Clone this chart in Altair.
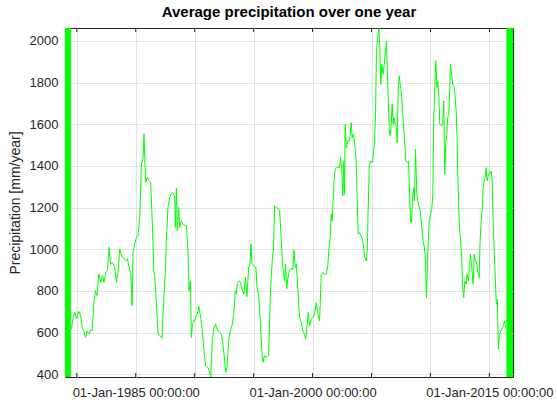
import math

import altair as alt
import pandas as pd

# ---- data -------------------------------------------------------------------
TITLE = "Average precipitation over one year"
Y_LABEL = "Precipitation [mm/year]"

# One-year moving average of precipitation (decimal year, mm/year)
DECIMAL_YEARS = [
    1979.55, 1979.69, 1979.83, 1979.97, 1980.17, 1980.34, 1980.45, 1980.59, 1980.74, 1980.87,
    1981.02, 1981.19, 1981.30, 1981.47, 1981.58, 1981.72, 1981.86, 1982.03, 1982.18, 1982.31,
    1982.46, 1982.60, 1982.74, 1982.86, 1983.03, 1983.22, 1983.36, 1983.50, 1983.64, 1983.79,
    1983.92, 1984.13, 1984.30, 1984.43, 1984.58, 1984.69, 1984.77, 1984.92, 1985.06, 1985.19,
    1985.34, 1985.48, 1985.62, 1985.70, 1985.79, 1985.85, 1985.96, 1986.13, 1986.27, 1986.42,
    1986.53, 1986.61, 1986.75, 1986.89, 1987.09, 1987.23, 1987.31, 1987.40, 1987.52, 1987.60,
    1987.74, 1987.88, 1988.03, 1988.16, 1988.31, 1988.36, 1988.45, 1988.53, 1988.64, 1988.73,
    1988.87, 1989.01, 1989.30, 1989.43, 1989.52, 1989.64, 1989.72, 1989.81, 1989.92, 1990.08,
    1990.23, 1990.36, 1990.51, 1990.65, 1990.76, 1990.93, 1991.13, 1991.27, 1991.36, 1991.50,
    1991.61, 1991.78, 1991.84, 1991.97, 1992.12, 1992.26, 1992.40, 1992.54, 1992.63, 1992.74,
    1992.88, 1993.03, 1993.16, 1993.31, 1993.45, 1993.53, 1993.62, 1993.75, 1993.90, 1994.01,
    1994.18, 1994.30, 1994.43, 1994.58, 1994.69, 1994.77, 1994.86, 1995.00, 1995.19, 1995.31,
    1995.42, 1995.57, 1995.70, 1995.79, 1995.93, 1996.10, 1996.27, 1996.44, 1996.58, 1996.69,
    1996.78, 1996.92, 1997.20, 1997.35, 1997.48, 1997.63, 1997.71, 1997.80, 1997.91, 1998.05,
    1998.19, 1998.33, 1998.42, 1998.53, 1998.62, 1998.75, 1998.90, 1999.04, 1999.18, 1999.32,
    1999.41, 1999.52, 1999.64, 1999.75, 1999.89, 2000.03, 2000.17, 2000.31, 2000.45, 2000.59,
    2000.74, 2000.87, 2001.02, 2001.16, 2001.30, 2001.38, 2001.50, 2001.58, 2001.67, 2001.78,
    2001.89, 2002.01, 2002.18, 2002.29, 2002.37, 2002.48, 2002.57, 2002.65, 2002.71, 2002.77,
    2002.86, 2002.99, 2003.14, 2003.28, 2003.36, 2003.47, 2003.58, 2003.70, 2003.79, 2003.87,
    2003.98, 2004.13, 2004.26, 2004.41, 2004.55, 2004.64, 2004.70, 2004.81, 2004.92, 2005.03,
    2005.11, 2005.25, 2005.34, 2005.42, 2005.53, 2005.62, 2005.70, 2005.79, 2005.87, 2005.99,
    2006.10, 2006.19, 2006.27, 2006.33, 2006.42, 2006.50, 2006.58, 2006.67, 2006.75, 2006.84,
    2006.92, 2007.01, 2007.09, 2007.18, 2007.26, 2007.35, 2007.43, 2007.54, 2007.65, 2007.80,
    2007.91, 2008.03, 2008.14, 2008.22, 2008.31, 2008.39, 2008.47, 2008.56, 2008.64, 2008.73,
    2008.84, 2008.98, 2009.13, 2009.26, 2009.38, 2009.49, 2009.58, 2009.66, 2009.77, 2009.89,
    2010.00, 2010.11, 2010.20, 2010.28, 2010.36, 2010.45, 2010.55, 2010.62, 2010.70, 2010.79,
    2010.96, 2011.04, 2011.13, 2011.21, 2011.30, 2011.38, 2011.47, 2011.55, 2011.64, 2011.69,
    2011.78, 2011.89, 2012.03, 2012.18, 2012.26, 2012.31, 2012.40, 2012.48, 2012.57, 2012.65,
    2012.74, 2012.82, 2012.91, 2013.03, 2013.11, 2013.22, 2013.33, 2013.39, 2013.50, 2013.62,
    2013.70, 2013.79, 2013.90, 2014.01, 2014.13, 2014.21, 2014.30, 2014.38, 2014.47, 2014.55,
    2014.64, 2014.72, 2014.81, 2014.92, 2015.03, 2015.14, 2015.23, 2015.31, 2015.42, 2015.51,
    2015.59, 2015.68, 2015.76, 2015.85, 2015.99, 2016.13, 2016.21, 2016.30, 2016.38,
]
PRECIP = [
    618, 673, 697, 666, 702, 681, 625, 609, 577, 609,
    594, 613, 609, 753, 801, 777, 882, 841, 873, 841,
    889, 897, 1009, 929, 937, 913, 841, 889, 1002, 969,
    961, 945, 953, 913, 882, 729, 985, 1026, 1057, 1065,
    1150, 1410, 1435, 1554, 1393, 1321, 1345, 1329, 1321, 1105,
    897, 873, 738, 594, 585, 574, 673, 785, 913, 1041,
    1201, 1249, 1268, 1273, 1249, 1105, 1294, 1089, 1201, 1105,
    1137, 1118, 1113, 993, 801, 849, 577, 642, 649, 673,
    690, 725, 673, 609, 529, 441, 433, 409, 387, 561,
    618, 642, 625, 609, 601, 594, 546, 465, 409, 433,
    561, 609, 633, 690, 801, 785, 841, 849, 841, 809,
    785, 865, 773, 913, 929, 1026, 929, 921, 913, 801,
    785, 657, 513, 457, 489, 481, 489, 817, 945, 1009,
    1209, 1201, 1189, 1041, 913, 849, 929, 809, 865, 900,
    910, 900, 995, 912, 928, 816, 672, 648, 608, 592,
    568, 624, 696, 632, 664, 672, 688, 744, 688, 656,
    880, 888, 880, 880, 928, 1000, 1056, 1168, 1136, 1296,
    1376, 1392, 1395, 1392, 1440, 1384, 1256, 1424, 1264, 1600,
    1488, 1520, 1520, 1608, 1536, 1552, 1504, 1424, 1232, 1072,
    1080, 1064, 1040, 968, 944, 992, 1160, 1400, 1424, 1416,
    1432, 1512, 1648, 1952, 2016, 2060, 1968, 1792, 1888, 1840,
    1904, 1952, 2000, 1872, 1728, 1568, 1544, 1600, 1696, 1600,
    1632, 1600, 1584, 1512, 1760, 1832, 1792, 1752, 1648, 1520,
    1424, 1416, 1424, 1280, 1136, 1128, 1232, 1296, 1232, 1480,
    1264, 1216, 1184, 1104, 1040, 1008, 944, 768, 976, 1136,
    1168, 1192, 1264, 1632, 1750, 1904, 1776, 1808, 1752, 1600,
    1592, 1600, 1712, 1360, 1504, 1552, 1632, 1648, 1776, 1888,
    1840, 1792, 1776, 1664, 1536, 1376, 1200, 1088, 1040, 944,
    816, 768, 848, 832, 880, 848, 928, 976, 912, 832,
    976, 944, 944, 896, 864, 1040, 1136, 1184, 1296, 1328,
    1344, 1392, 1328, 1360, 1360, 1376, 1344, 1152, 976, 848,
    736, 760, 520, 592, 608, 624, 640, 656, 624,
]

# Start/end stretches where the averaging window runs off the record
EDGE_START = [1979.0, 2016.44]
EDGE_END = [1979.5, 2017.0]

X_RANGE = [1979, 2017]
Y_RANGE = [387, 2062]
TICK_YEARS = [1980, 1985, 1990, 1995, 2000, 2005, 2010, 2015]
LABELLED_YEARS = [1985, 2000, 2015]
Y_TICKS = [400, 600, 800, 1000, 1200, 1400, 1600, 1800, 2000]

# ---- helpers ----------------------------------------------------------------
def to_timestamp(y):
    year = int(math.floor(y))
    start = pd.Timestamp(year=year, month=1, day=1)
    end = pd.Timestamp(year=year + 1, month=1, day=1)
    return start + (end - start) * (y - year)


W, H = 448, 349
GREEN = "#00ff00"
INK = "#262626"
FONT = "Liberation Sans"

series = pd.DataFrame({"date": [to_timestamp(y) for y in DECIMAL_YEARS], "precip": PRECIP})
bands = pd.DataFrame({
    "start": [to_timestamp(y) for y in EDGE_START],
    "end": [to_timestamp(y) for y in EDGE_END],
})
ticks = pd.DataFrame({"date": [pd.Timestamp(year=y, month=1, day=1) for y in TICK_YEARS]})

label_years = ",".join(str(y) for y in LABELLED_YEARS)
x_scale = alt.Scale(
    domain=[alt.DateTime(year=X_RANGE[0], month=1, date=1),
            alt.DateTime(year=X_RANGE[1], month=1, date=1)],
    nice=False,
)
y_scale = alt.Scale(domain=Y_RANGE, nice=False, zero=False)

x_axis = alt.Axis(
    values=[alt.DateTime(year=y, month=1, date=1) for y in TICK_YEARS],
    labelExpr=f"indexof([{label_years}], year(datum.value)) >= 0 ? "
              "timeFormat(datum.value, '%d-%b-%Y %H:%M:%S') : ''",
    labelOverlap=False,
    labelFlush=False,
    labelBound=False,
    labelPadding=9,
    title=None,
)
y_axis = alt.Axis(
    values=Y_TICKS,
    format="d",
    title=Y_LABEL,
    labelPadding=7,
    titlePadding=7,
)

line = alt.Chart(series).mark_line(color=GREEN, strokeWidth=1, clip=True).encode(
    x=alt.X("date:T", scale=x_scale, axis=x_axis),
    y=alt.Y("precip:Q", scale=y_scale, axis=y_axis),
)

edges = alt.Chart(bands).mark_rect(color=GREEN, opacity=1).encode(
    x=alt.X("start:T", scale=x_scale),
    x2="end:T",
    y=alt.value(0),
    y2=alt.value(H),
)

bottom_ticks = alt.Chart(ticks).mark_rule(color=INK, strokeWidth=1).encode(
    x=alt.X("date:T", scale=x_scale), y=alt.value(H), y2=alt.value(H - 4)
)
top_ticks = alt.Chart(ticks).mark_rule(color=INK, strokeWidth=1).encode(
    x=alt.X("date:T", scale=x_scale), y=alt.value(0), y2=alt.value(4)
)

chart = (
    alt.layer(line, edges, bottom_ticks, top_ticks)
    .properties(
        width=W,
        height=H,
        title=alt.TitleParams(
            TITLE, font=FONT, fontSize=15, fontWeight="bold", color="#000000",
            anchor="middle", offset=8,
        ),
        autosize=alt.AutoSizeParams(type="none"),
        padding={"left": 65, "top": 28, "right": 557 - 65 - W, "bottom": 408 - 28 - H},
        background="white",
    )
    .configure_view(stroke=INK, strokeWidth=1)
    .configure_axis(
        domain=False,
        ticks=False,
        grid=True,
        gridColor="#e2e2e2",
        gridWidth=1,
        labelFont=FONT,
        labelFontSize=13,
        labelColor=INK,
        titleFont=FONT,
        titleFontSize=14,
        titleFontWeight="normal",
        titleColor=INK,
    )
)

chart.save("out.html", embed_options={"renderer": "svg", "actions": False})
